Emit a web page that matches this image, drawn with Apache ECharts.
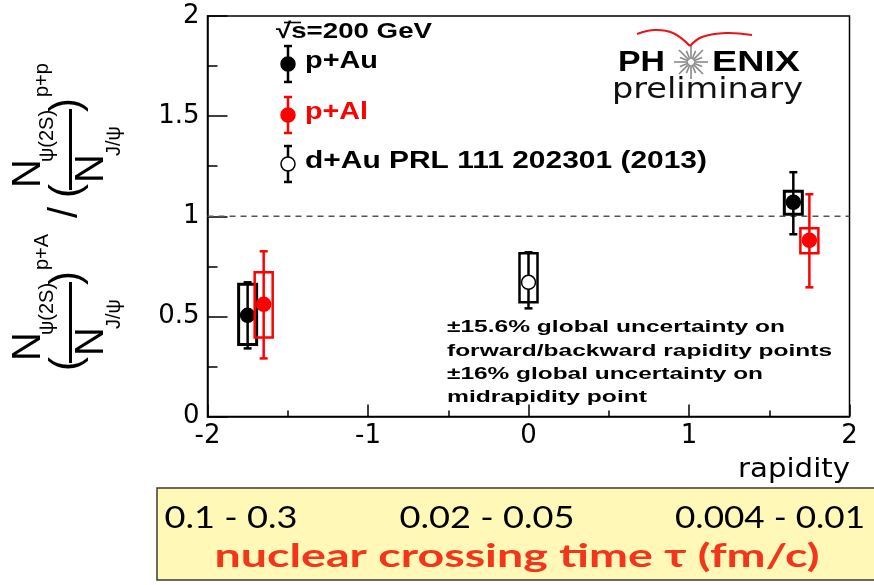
<!DOCTYPE html>
<html>
<head>
<meta charset="utf-8">
<script src="https://cdn.jsdelivr.net/npm/echarts@6/dist/echarts.min.js"></script>
<style>
  html, body { margin: 0; padding: 0; background: #ffffff; }
  #chart { width: 874px; height: 585px; }
</style>
</head>
<body>
<div id="chart"></div>
<script>
// psi(2S) / J/psi double ratio versus rapidity, sqrt(s_NN) = 200 GeV

// p+Au
const pAuRapidity = [-1.75, 1.65];
const pAuRatio    = [0.505, 1.07];
const pAuStatLow  = [0.34, 0.91];
const pAuStatHigh = [0.67, 1.22];
const pAuSysLow   = [0.36, 1.01];
const pAuSysHigh  = [0.66, 1.125];

// p+Al
const pAlRapidity = [-1.65, 1.75];
const pAlRatio    = [0.56, 0.88];
const pAlStatLow  = [0.29, 0.645];
const pAlStatHigh = [0.825, 1.11];
const pAlSysLow   = [0.395, 0.815];
const pAlSysHigh  = [0.72, 0.94];

// d+Au (PRL 111 202301)
const dAuRapidity = [0.0];
const dAuRatio    = [0.67];
const dAuStatLow  = [0.54];
const dAuStatHigh = [0.82];
const dAuSysLow   = [0.57];
const dAuSysHigh  = [0.815];

const seriesNames = ['p+Au', 'p+Al', 'd+Au PRL 111 202301 (2013)'];
const referenceRatio = 1;

// axis ranges
const rapidityMin = -2, rapidityMax = 2, rapidityStep = 1;
const ratioMin = 0, ratioMax = 2, ratioStep = 0.5;

// crossing-time ranges shown under the plot (backward, mid, forward)
const crossingTimes = ['0.1 - 0.3', '0.02 - 0.05', '0.004 - 0.01'];
const crossingTitle = 'nuclear crossing time \u03c4 (fm/c)';

const globalNotes = [
  '\u00b115.6% global uncertainty on',
  'forward/backward rapidity points',
  '\u00b116% global uncertainty on',
  'midrapidity point'
];

const measure = document.createElement('canvas').getContext('2d');

// text squeezed/stretched horizontally to a given width
function wideText(text, x, midY, width, size, weight, family, colour, align) {
  align = align || 'left';
  measure.font = weight + ' ' + size + 'px "' + family + '"';
  const w = measure.measureText(text).width || 1;
  return {
    type: 'text', x: x, y: midY, scaleX: width / w, silent: true,
    style: {
      text: text, fontSize: size, fontWeight: weight, fontFamily: family, fill: colour,
      align: align, verticalAlign: 'middle', textAlign: align, textVerticalAlign: 'middle'
    }
  };
}

function plainText(text, x, y, size, family, align, weight) {
  return {
    type: 'text', x: x, y: y, silent: true,
    style: {
      text: text, fontSize: size, fontFamily: family, fontWeight: weight || 'normal', fill: '#000',
      align: align, verticalAlign: 'middle', textAlign: align, textVerticalAlign: 'middle'
    }
  };
}

// one ratio (N_psi(2S)/N_J/psi)^sup laid out along the reading direction u
function ratioParts(u0, sup) {
  const F = 'Liberation Sans';
  return [
    plainText('(', u0 + 36, 67, 42, F, 'center'),
    plainText('N', u0 + 53.5, 29, 40, F, 'center'),
    plainText('\u03c8(2S)', u0 + 65, 47, 20, F, 'left'),
    { type: 'rect', silent: true, shape: { x: u0 + 37, y: 69, width: 81, height: 3 }, style: { fill: '#000' } },
    plainText('N', u0 + 58.5, 92, 40, F, 'center'),
    plainText('J/\u03c8', u0 + 71, 114, 20, F, 'left'),
    plainText(')', u0 + 122, 67, 42, F, 'center'),
    plainText(sup, u0 + 130, 42, 20, F, 'left')
  ];
}

const yTitle = {
  type: 'group', x: 0, y: 400, rotation: Math.PI / 2, silent: true,
  children: ratioParts(0, 'p+A')
    .concat([plainText('/', 187.5, 66, 40, 'Liberation Sans', 'center')])
    .concat(ratioParts(173, 'p+p'))
};

// legend: error-bar style keys
function legendKey(cx, cy, colour, hollow) {
  const h = 18, cap = 4;
  return [
    { type: 'line', silent: true, shape: { x1: cx, y1: cy - h, x2: cx, y2: cy + h }, style: { stroke: colour, lineWidth: 2.5 } },
    { type: 'line', silent: true, shape: { x1: cx - cap, y1: cy - h, x2: cx + cap, y2: cy - h }, style: { stroke: colour, lineWidth: 2.5 } },
    { type: 'line', silent: true, shape: { x1: cx - cap, y1: cy + h, x2: cx + cap, y2: cy + h }, style: { stroke: colour, lineWidth: 2.5 } },
    { type: 'circle', silent: true, shape: { cx: cx, cy: cy, r: 7 }, style: { fill: hollow ? '#fff' : colour, stroke: colour, lineWidth: 1.5 } }
  ];
}

const LS = 'Liberation Sans';
const legendItems = [].concat(
  [wideText('\u221as=200 GeV', 276, 32, 156, 22, 'bold', LS, '#000')],
  [{ type: 'line', silent: true, shape: { x1: 284, y1: 22.5, x2: 301, y2: 22.5 }, style: { stroke: '#000', lineWidth: 1.6 } }],
  legendKey(288, 64, '#000', false),
  [wideText(seriesNames[0], 305, 62, 73, 23, 'bold', LS, '#000')],
  legendKey(288, 115, '#ff0000', false),
  [wideText(seriesNames[1], 305, 113, 63, 23, 'bold', LS, '#ff0000')],
  legendKey(288, 164, '#000', true),
  [wideText(seriesNames[2], 305, 162, 402, 23, 'bold', LS, '#000')]
);

// experiment logo
const star = [];
for (let k = 0; k < 16; k++) {
  const a = k * Math.PI / 8;
  const r1 = 3, r2 = (k % 2 === 0) ? 17 : 12;
  star.push({
    type: 'line', silent: true,
    shape: { x1: 691 + r1 * Math.cos(a), y1: 62 + r1 * Math.sin(a), x2: 691 + r2 * Math.cos(a), y2: 62 + r2 * Math.sin(a) },
    style: { stroke: '#8a8a8a', lineWidth: 1.6 }
  });
}
const logo = [].concat(
  [wideText('PH', 618, 62.5, 47, 29, 'bold', LS, '#000')],
  [wideText('ENIX', 712, 62.5, 88, 29, 'bold', LS, '#000')],
  star,
  [{ type: 'polyline', silent: true, shape: { points: [[637, 34], [655, 30], [673, 33], [690, 46]], smooth: 0.4 }, style: { stroke: '#e8141b', lineWidth: 2, fill: 'none' } },
   { type: 'polyline', silent: true, shape: { points: [[690, 46], [702, 37], [726, 33], [752, 35]], smooth: 0.4 }, style: { stroke: '#e8141b', lineWidth: 2, fill: 'none' } }],
  [wideText('preliminary', 612, 91, 191, 28, 'normal', 'DejaVu Sans', '#111')]
);

const notes = [
  wideText(globalNotes[0], 447, 327, 338, 17, 'bold', LS, '#000'),
  wideText(globalNotes[1], 447, 351, 385, 17, 'bold', LS, '#000'),
  wideText(globalNotes[2], 447, 374, 316, 17, 'bold', LS, '#000'),
  wideText(globalNotes[3], 447, 397, 200, 17, 'bold', LS, '#000')
];

const crossingBox = [
  { type: 'rect', silent: true, shape: { x: 157, y: 488, width: 722, height: 92 }, style: { fill: '#fff8b6', stroke: '#3a3a3a', lineWidth: 1.5 } },
  wideText(crossingTimes[0], 231, 518, 133, 30, 'normal', 'Lato', '#000', 'center'),
  wideText(crossingTimes[1], 487, 518, 175, 30, 'normal', 'Lato', '#000', 'center'),
  wideText(crossingTimes[2], 770, 518, 190, 30, 'normal', 'Lato', '#000', 'center'),
  wideText(crossingTitle, 517, 557, 605, 32, 'bold', 'Lato', '#f2361c', 'center')
];

const axisTitle = [wideText('rapidity', 850, 470, 112, 26, 'normal', 'DejaVu Sans', '#000', 'right')];

// data point with statistical bar and systematic box
function errorBox(colour, hollow, boxLine) {
  return function (params, api) {
    const x = api.value(0);
    const p = api.coord([x, api.value(1)]);
    const statLo = api.coord([x, api.value(2)])[1];
    const statHi = api.coord([x, api.value(3)])[1];
    const sysLo = api.coord([x, api.value(4)])[1];
    const sysHi = api.coord([x, api.value(5)])[1];
    const half = 9, cap = 4;
    return {
      type: 'group',
      children: [
        { type: 'rect', shape: { x: p[0] - half, y: sysHi, width: half * 2, height: sysLo - sysHi }, style: { fill: 'none', stroke: colour, lineWidth: boxLine } },
        { type: 'line', shape: { x1: p[0], y1: statHi, x2: p[0], y2: statLo }, style: { stroke: colour, lineWidth: 2.5 } },
        { type: 'line', shape: { x1: p[0] - cap, y1: statHi, x2: p[0] + cap, y2: statHi }, style: { stroke: colour, lineWidth: 2.5 } },
        { type: 'line', shape: { x1: p[0] - cap, y1: statLo, x2: p[0] + cap, y2: statLo }, style: { stroke: colour, lineWidth: 2.5 } },
        { type: 'circle', shape: { cx: p[0], cy: p[1], r: 7 }, style: { fill: hollow ? '#ffffff' : colour, stroke: colour, lineWidth: 1.5 } }
      ]
    };
  };
}

function zipRows(x, y, sl, sh, bl, bh) {
  return x.map(function (v, i) { return [v, y[i], sl[i], sh[i], bl[i], bh[i]]; });
}

const chart = echarts.init(document.getElementById('chart'), null, { renderer: 'canvas' });

const axisFont = { fontFamily: 'DejaVu Sans', fontSize: 26, color: '#000' };

chart.setOption({
  animation: false,
  backgroundColor: '#ffffff',
  grid: {
    left: 207.5, right: 24.5, top: 16, bottom: 168.5,
    show: true, borderColor: '#000', borderWidth: 1.5, backgroundColor: 'transparent'
  },
  xAxis: {
    type: 'value', min: rapidityMin, max: rapidityMax, interval: rapidityStep,
    axisLine: { show: true, onZero: false, lineStyle: { color: '#000', width: 1.5 } },
    axisTick: { show: true, inside: true, length: 12, lineStyle: { color: '#000', width: 1.5 } },
    minorTick: { show: true, splitNumber: 2, length: 6, lineStyle: { color: '#000', width: 1.5 } },
    splitLine: { show: false },
    axisLabel: Object.assign({ margin: 7, showMinLabel: true, showMaxLabel: true }, axisFont)
  },
  yAxis: {
    type: 'value', min: ratioMin, max: ratioMax, interval: ratioStep,
    axisLine: { show: true, onZero: false, lineStyle: { color: '#000', width: 1.5 } },
    axisTick: { show: true, inside: true, length: 20, lineStyle: { color: '#000', width: 1.5 } },
    minorTick: { show: true, splitNumber: 2, length: 10, lineStyle: { color: '#000', width: 1.5 } },
    splitLine: { show: false },
    axisLabel: Object.assign({ margin: 8, showMinLabel: true, showMaxLabel: true }, axisFont)
  },
  series: [
    {
      type: 'line', name: 'unity', silent: true, symbol: 'none', z: 1,
      data: [[rapidityMin, referenceRatio], [rapidityMax, referenceRatio]],
      lineStyle: { color: '#555', width: 1.5, type: [6, 5] }
    },
    {
      type: 'custom', name: seriesNames[2], z: 3,
      encode: { x: 0, y: [1, 2, 3, 4, 5] },
      data: zipRows(dAuRapidity, dAuRatio, dAuStatLow, dAuStatHigh, dAuSysLow, dAuSysHigh),
      renderItem: errorBox('#000000', true, 2.5)
    },
    {
      type: 'custom', name: seriesNames[0], z: 4,
      encode: { x: 0, y: [1, 2, 3, 4, 5] },
      data: zipRows(pAuRapidity, pAuRatio, pAuStatLow, pAuStatHigh, pAuSysLow, pAuSysHigh),
      renderItem: errorBox('#000000', false, 3)
    },
    {
      type: 'custom', name: seriesNames[1], z: 5,
      encode: { x: 0, y: [1, 2, 3, 4, 5] },
      data: zipRows(pAlRapidity, pAlRatio, pAlStatLow, pAlStatHigh, pAlSysLow, pAlSysHigh),
      renderItem: errorBox('#ff0000', false, 2.5)
    }
  ],
  graphic: [yTitle].concat(legendItems, logo, notes, crossingBox, axisTitle)
});
</script>
</body>
</html>
